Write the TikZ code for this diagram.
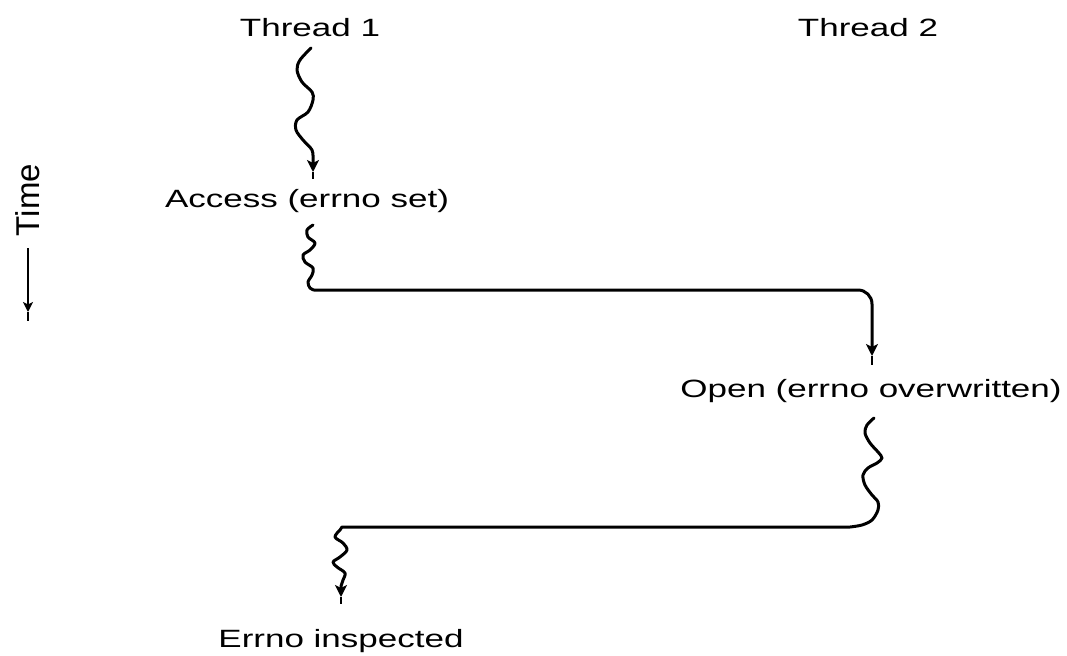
\documentclass[tikz,border=0pt]{standalone}
\usepackage{fontspec}
\setmainfont{Liberation Sans}
\usetikzlibrary{arrows.meta}
\begin{document}
\begin{tikzpicture}[x=0.5pt,y=-0.5pt,
  lbl/.style={font=\fontsize{12.5}{15}\selectfont, inner sep=0pt, anchor=base, xscale=1.4},
  thr/.style={line width=1.5pt, line cap=round, line join=round},
  tip/.style={-{Stealth[length=6pt,width=6pt,inset=1.5pt]}},
  stub/.style={line width=0.7pt}]
\useasboundingbox (0,0) rectangle (1067,655);
\node[lbl] (t1) at (310,36) {Thread 1};
\node[lbl] (t2) at (868,36) {Thread 2};
\node[lbl] (acc) at (307,207) {Access (errno set)};
\node[lbl] (opn) at (871,397) {Open (errno overwritten)};
\node[lbl] (err) at (341,647) {Errno inspected};
\node[font=\fontsize{16.5}{18}\selectfont, inner sep=0pt, rotate=90] (time) at (28,200) {Time};
\coordinate (tA) at (28,248);
\coordinate (tB) at (28,312);
\coordinate (tC) at (28,321);
\draw[line width=1.1pt, -{Stealth[length=5pt,width=5pt,inset=1.2pt]}] (tA) -- (tB);
\draw[stub] (tB) -- (tC);
% thread 1 first segment
\coordinate (w1e) at (313,172);
\coordinate (w1f) at (313,179);
\draw[thr, tip] plot[smooth, tension=0.55] coordinates {(311,48) (300,60) (297,70) (302,82) (312,92) (313,100) (308,112) (297,120) (296,130) (303,140) (312,150) (313,160)} -- (w1e);
\draw[stub] (w1e) -- (w1f);
% thread 1 to thread 2
\coordinate (c1) at (858,290);
\coordinate (w2e) at (872,356);
\coordinate (w2f) at (872,365);
\draw[thr, tip] plot[smooth, tension=0.55] coordinates {(313,225) (307,230) (308,237) (315,243) (310,250) (303,255) (305,262) (313,268) (312,275) (308,282) (310,288) (314,290)}
  -- (c1) to[out=0,in=90] (872,304) -- (w2e);
\draw[stub] (w2e) -- (w2f);
% thread 2 to thread 1
\coordinate (c2) at (850,527);
\coordinate (w3e) at (341,597);
\coordinate (w3f) at (341,604);
\draw[thr, tip] plot[smooth, tension=0.55] coordinates {(874,418) (867,425) (865,433) (870,443) (878,452) (882,458) (877,463) (868,468) (863,475) (865,485) (872,495) (878,502) (878,510) (872,520) (862,525) (850,527)}
  -- (342,527) -- plot[smooth, tension=0.55] coordinates {(340,530) (335,537) (343,543) (347,550) (340,557) (333,562) (337,567) (345,573) (343,580) (341,586)} -- (w3e);
\draw[stub] (w3e) -- (w3f);
\end{tikzpicture}
\end{document}
